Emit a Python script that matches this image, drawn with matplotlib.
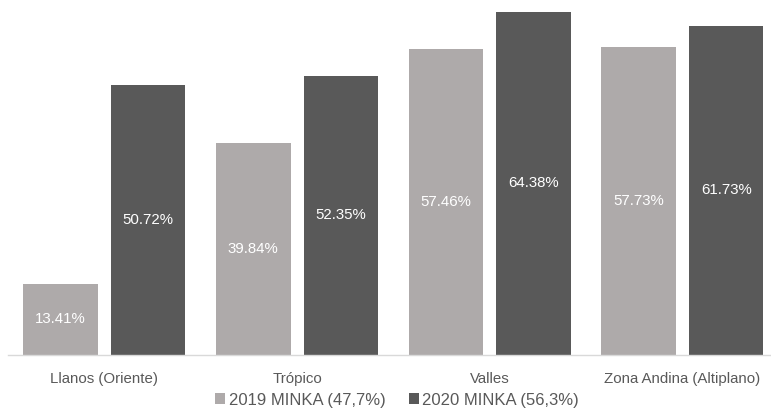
import numpy as np
import matplotlib
matplotlib.use('Agg')
import matplotlib.pyplot as plt

plt.rcParams['font.family'] = ['Liberation Sans', 'DejaVu Sans']

categories = ["Llanos (Oriente)", "Trópico", "Valles", "Zona Andina (Altiplano)"]
minka_2019 = [13.41, 39.84, 57.46, 57.73]
minka_2020 = [50.72, 52.35, 64.38, 61.73]
series_names = ["2019 MINKA (47,7%)", "2020 MINKA (56,3%)"]

light = '#AEAAAA'
dark = '#595959'
text_col = '#595959'

fig = plt.figure(figsize=(7.71, 4.09), dpi=100)
ax = fig.add_axes([8 / 771, 54 / 409, 763 / 771, 355 / 409])

x = np.arange(len(categories))
w = 0.387
off = 0.227
b1 = ax.bar(x - off, minka_2019, w, color=light, label=series_names[0])
b2 = ax.bar(x + off, minka_2020, w, color=dark, label=series_names[1])

for bars, vals in [(b1, minka_2019), (b2, minka_2020)]:
    for b, v in zip(bars, vals):
        ax.text(b.get_x() + b.get_width() / 2, v / 2, f"{v:.2f}%",
                ha='center', va='center', color='white', fontsize=10.8)

ax.set_xlim(-0.5, -0.5 + 763 / 192.7)
ax.set_ylim(0, 66.6)
ax.set_yticks([])
ax.set_xticks(x)
ax.set_xticklabels(categories, fontsize=10.8, color=text_col)
ax.tick_params(axis='x', length=0, pad=12)
for s in ['top', 'right', 'left']:
    ax.spines[s].set_visible(False)
ax.spines['bottom'].set_color('#D9D9D9')
ax.spines['bottom'].set_linewidth(1)

leg = fig.legend(loc='center', bbox_to_anchor=(397 / 771, 9 / 409), ncol=2,
                 frameon=False, fontsize=12, handlelength=0.6, handleheight=0.6,
                 handletextpad=0.2, columnspacing=1.4, borderpad=0)
for t in leg.get_texts():
    t.set_color(text_col)

fig.savefig('out.png', dpi=100)
